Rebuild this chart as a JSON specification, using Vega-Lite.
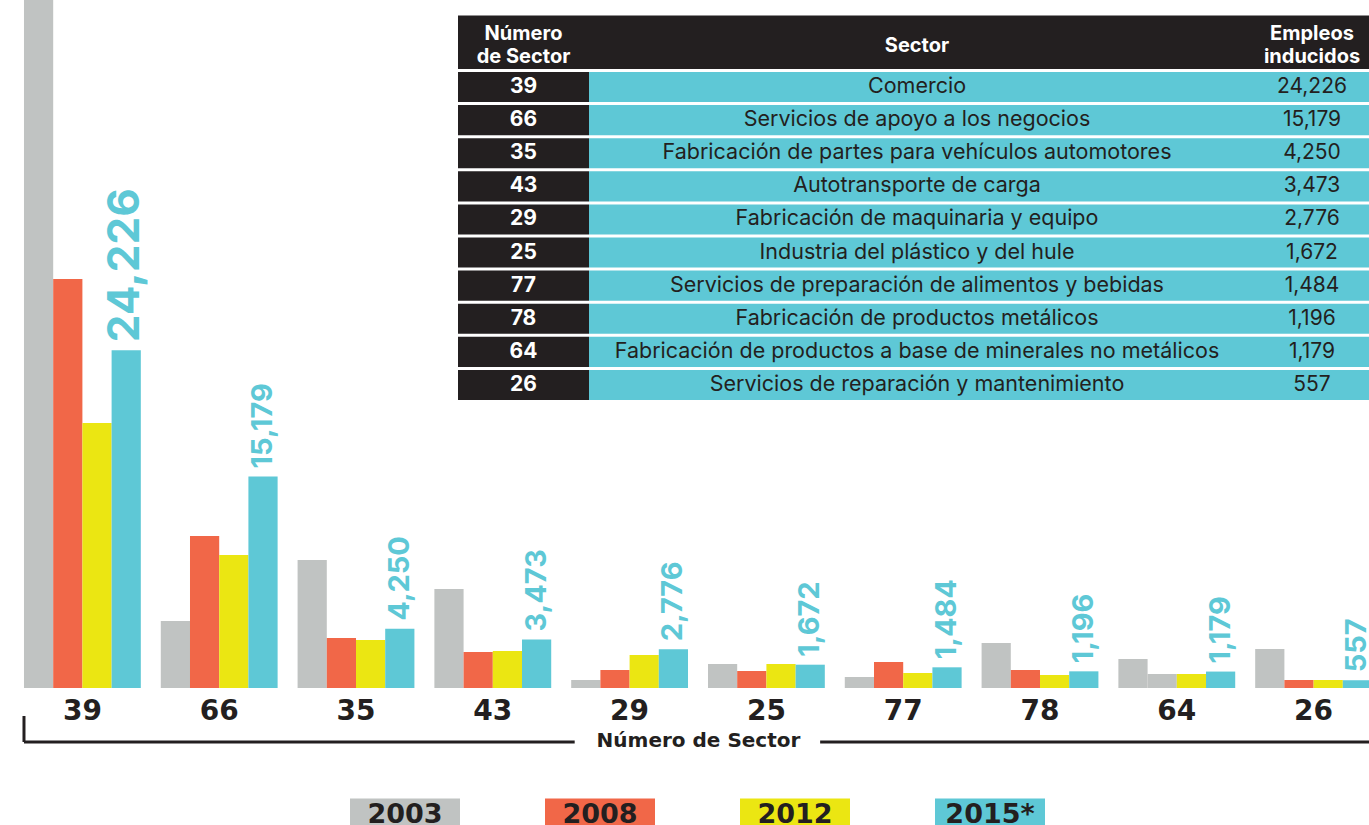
{
  "$schema": "https://vega.github.io/schema/vega-lite/v6.json",
  "autosize": {"type": "none"},
  "padding": {"left": 0, "top": 0, "right": 0, "bottom": 137},
  "width": 1369,
  "height": 688,
  "background": "white",
  "config": {"view": {"stroke": null}, "font": "Inter"},
  "datasets": {
    "bars": [
      {"sector": "39", "year": "2003", "value": 55000},
      {"sector": "39", "year": "2008", "value": 29340},
      {"sector": "39", "year": "2012", "value": 19010},
      {"sector": "39", "year": "2015*", "value": 24226},
      {"sector": "66", "year": "2003", "value": 4806},
      {"sector": "66", "year": "2008", "value": 10904},
      {"sector": "66", "year": "2012", "value": 9541},
      {"sector": "66", "year": "2015*", "value": 15179},
      {"sector": "35", "year": "2003", "value": 9182},
      {"sector": "35", "year": "2008", "value": 3587},
      {"sector": "35", "year": "2012", "value": 3443},
      {"sector": "35", "year": "2015*", "value": 4250},
      {"sector": "43", "year": "2003", "value": 7102},
      {"sector": "43", "year": "2008", "value": 2583},
      {"sector": "43", "year": "2012", "value": 2654},
      {"sector": "43", "year": "2015*", "value": 3473},
      {"sector": "29", "year": "2003", "value": 574},
      {"sector": "29", "year": "2008", "value": 1291},
      {"sector": "29", "year": "2012", "value": 2367},
      {"sector": "29", "year": "2015*", "value": 2776},
      {"sector": "25", "year": "2003", "value": 1722},
      {"sector": "25", "year": "2008", "value": 1220},
      {"sector": "25", "year": "2012", "value": 1722},
      {"sector": "25", "year": "2015*", "value": 1672},
      {"sector": "77", "year": "2003", "value": 789},
      {"sector": "77", "year": "2008", "value": 1865},
      {"sector": "77", "year": "2012", "value": 1076},
      {"sector": "77", "year": "2015*", "value": 1484},
      {"sector": "78", "year": "2003", "value": 3228},
      {"sector": "78", "year": "2008", "value": 1291},
      {"sector": "78", "year": "2012", "value": 933},
      {"sector": "78", "year": "2015*", "value": 1196},
      {"sector": "64", "year": "2003", "value": 2080},
      {"sector": "64", "year": "2008", "value": 1004},
      {"sector": "64", "year": "2012", "value": 1004},
      {"sector": "64", "year": "2015*", "value": 1179},
      {"sector": "26", "year": "2003", "value": 2798},
      {"sector": "26", "year": "2008", "value": 574},
      {"sector": "26", "year": "2012", "value": 574},
      {"sector": "26", "year": "2015*", "value": 557}
    ],
    "table": [
      {"sector": "39", "name": "Comercio", "empleos": 24226},
      {"sector": "66", "name": "Servicios de apoyo a los negocios", "empleos": 15179},
      {"sector": "35", "name": "Fabricación de partes para vehículos automotores", "empleos": 4250},
      {"sector": "43", "name": "Autotransporte de carga", "empleos": 3473},
      {"sector": "29", "name": "Fabricación de maquinaria y equipo", "empleos": 2776},
      {"sector": "25", "name": "Industria del plástico y del hule", "empleos": 1672},
      {"sector": "77", "name": "Servicios de preparación de alimentos y bebidas", "empleos": 1484},
      {"sector": "78", "name": "Fabricación de productos metálicos", "empleos": 1196},
      {"sector": "64", "name": "Fabricación de productos a base de minerales no metálicos", "empleos": 1179},
      {"sector": "26", "name": "Servicios de reparación y mantenimiento", "empleos": 557}
    ]
  },
  "layer": [
    {
      "data": {"name": "bars"},
      "layer": [
        {
          "mark": {"type": "bar"},
          "encoding": {
            "x": {
              "field": "sector", "type": "nominal",
              "sort": ["39", "66", "35", "43", "29", "25", "77", "78", "64", "26"],
              "scale": {"domain": ["39", "66", "35", "43", "29", "25", "77", "78", "64", "26"], "range": [14, 1382], "paddingInner": 0.146, "paddingOuter": 0.073},
              "axis": {
                "title": "Número de Sector", "labelAngle": 0, "ticks": false, "tickSize": 0, "domain": false, "grid": false,
                "labelPadding": 9, "labelFont": "DejaVu Sans", "labelFontWeight": "bold", "labelFontSize": 28, "labelColor": "#231f20",
                "titleFont": "DejaVu Sans", "titleFontWeight": "bold", "titleFontSize": 20, "titleColor": "#231f20",
                "titleY": 58, "titleBaseline": "alphabetic"
              }
            },
            "xOffset": {
              "field": "year", "type": "nominal",
              "scale": {"domain": ["2003", "2008", "2012", "2015*"], "paddingInner": 0, "paddingOuter": 0}
            },
            "y": {"field": "value", "type": "quantitative", "scale": {"domain": [0, 49354], "nice": false}, "axis": null},
            "color": {
              "field": "year", "type": "nominal",
              "scale": {"domain": ["2003", "2008", "2012", "2015*"], "range": ["#c0c3c2", "#f16748", "#ebe612", "#5ec8d6"]},
              "condition": {"test": "datum.sector === '64' && datum.year === '2008'", "value": "#c0c3c2"},
              "legend": {
                "orient": "none", "legendX": 350, "legendY": 760, "direction": "horizontal", "title": null,
                "symbolType": "M-1,-0.3H1V0.2H-1Z", "symbolSize": 12100, "symbolStrokeWidth": 0, "symbolOpacity": 1,
                "labelAlign": "center", "labelOffset": -55, "labelFontSize": 27, "labelFont": "DejaVu Sans",
                "labelFontWeight": "bold", "labelColor": "#231f20", "columnPadding": 85,
                "padding": 0, "labelLimit": 300
              }
            }
          }
        },
        {
          "transform": [{"filter": "datum.year === '2015*'"}],
          "mark": {"type": "text", "angle": 270, "align": "left", "baseline": "middle", "dx": 8, "font": "Inter", "fontWeight": "bold", "color": "#5ec8d6"},
          "encoding": {
            "x": {"field": "sector", "type": "nominal"},
            "xOffset": {"field": "year", "type": "nominal"},
            "y": {"field": "value", "type": "quantitative"},
            "text": {"field": "value", "type": "quantitative", "format": ","},
            "size": {"condition": {"test": "datum.sector === '39'", "value": 44}, "value": 29}
          }
        },
        {
          "data": {"values": [{}]},
          "mark": {"type": "rule", "strokeWidth": 3, "color": "#231f20"},
          "encoding": {
            "x": {"datum": "39", "type": "nominal", "bandPosition": 0},
            "y": {"datum": -2009, "type": "quantitative"},
            "y2": {"datum": -3874}
          }
        },
        {
          "data": {"values": [{}]},
          "mark": {"type": "rule", "strokeWidth": 3, "color": "#231f20"},
          "encoding": {
            "x": {"datum": "39", "type": "nominal", "bandPosition": 0},
            "x2": {"datum": "29", "bandPosition": 0.03},
            "y": {"datum": -3874, "type": "quantitative"}
          }
        },
        {
          "data": {"values": [{}]},
          "mark": {"type": "rule", "strokeWidth": 3, "color": "#231f20"},
          "encoding": {
            "x": {"datum": "25", "type": "nominal", "bandPosition": 0.96},
            "x2": {"datum": "26", "bandPosition": 1},
            "y": {"datum": -3874, "type": "quantitative"}
          }
        }
      ]
    },
    {
      "layer": [
        {
          "data": {"name": "table"},
          "layer": [
            {
              "mark": {"type": "rect", "color": "#231f20"},
              "encoding": {
                "x": {"datum": "num", "type": "nominal", "scale": {"range": [458, 589], "paddingInner": 0, "paddingOuter": 0}, "axis": null},
                "y": {"field": "sector", "type": "nominal", "sort": null, "scale": {"range": [70.5, 401.5], "paddingInner": 0.09, "paddingOuter": 0.045}, "axis": null}
              }
            },
            {
              "mark": {"type": "text", "font": "Inter", "fontWeight": "bold", "fontSize": 21, "color": "white"},
              "encoding": {
                "x": {"datum": "num", "type": "nominal"},
                "y": {"field": "sector", "type": "nominal", "sort": null},
                "text": {"field": "sector", "type": "nominal"}
              }
            }
          ]
        },
        {
          "data": {"values": [{}]},
          "layer": [
            {
              "mark": {"type": "rect", "color": "#231f20"},
              "encoding": {
                "x": {"datum": "num", "type": "nominal"},
                "y": {"datum": "h", "type": "nominal", "scale": {"range": [15.5, 69], "paddingInner": 0, "paddingOuter": 0}, "axis": null}
              }
            },
            {
              "mark": {"type": "text", "text": ["Número", "de Sector"], "lineHeight": 23, "dy": -8, "font": "Inter", "fontWeight": "bold", "fontSize": 20, "color": "white"},
              "encoding": {
                "x": {"datum": "num", "type": "nominal"},
                "y": {"datum": "h", "type": "nominal"}
              }
            }
          ]
        }
      ],
      "resolve": {"scale": {"y": "independent"}}
    },
    {
      "layer": [
        {
          "data": {"name": "table"},
          "layer": [
            {
              "mark": {"type": "rect", "color": "#5ec8d6"},
              "encoding": {
                "x": {"datum": "sec", "type": "nominal", "scale": {"range": [589, 1245], "paddingInner": 0, "paddingOuter": 0}, "axis": null},
                "y": {"field": "sector", "type": "nominal", "sort": null, "scale": {"range": [70.5, 401.5], "paddingInner": 0.09, "paddingOuter": 0.045}, "axis": null}
              }
            },
            {
              "mark": {"type": "text", "font": "Inter", "fontSize": 21.5, "color": "#231f20"},
              "encoding": {
                "x": {"datum": "sec", "type": "nominal"},
                "y": {"field": "sector", "type": "nominal", "sort": null},
                "text": {"field": "name", "type": "nominal"}
              }
            }
          ]
        },
        {
          "data": {"values": [{}]},
          "layer": [
            {
              "mark": {"type": "rect", "color": "#231f20"},
              "encoding": {
                "x": {"datum": "sec", "type": "nominal"},
                "y": {"datum": "h", "type": "nominal", "scale": {"range": [15.5, 69], "paddingInner": 0, "paddingOuter": 0}, "axis": null}
              }
            },
            {
              "mark": {"type": "text", "text": "Sector", "dy": 4, "font": "Inter", "fontWeight": "bold", "fontSize": 20, "color": "white"},
              "encoding": {
                "x": {"datum": "sec", "type": "nominal"},
                "y": {"datum": "h", "type": "nominal"}
              }
            }
          ]
        }
      ],
      "resolve": {"scale": {"y": "independent"}}
    },
    {
      "layer": [
        {
          "data": {"name": "table"},
          "layer": [
            {
              "mark": {"type": "rect", "color": "#5ec8d6"},
              "encoding": {
                "x": {"datum": "emp", "type": "nominal", "scale": {"range": [1245, 1379], "paddingInner": 0, "paddingOuter": 0}, "axis": null},
                "y": {"field": "sector", "type": "nominal", "sort": null, "scale": {"range": [70.5, 401.5], "paddingInner": 0.09, "paddingOuter": 0.045}, "axis": null}
              }
            },
            {
              "mark": {"type": "text", "font": "Inter", "fontSize": 21, "color": "#231f20"},
              "encoding": {
                "x": {"datum": "emp", "type": "nominal"},
                "y": {"field": "sector", "type": "nominal", "sort": null},
                "text": {"field": "empleos", "type": "quantitative", "format": ","}
              }
            }
          ]
        },
        {
          "data": {"values": [{}]},
          "layer": [
            {
              "mark": {"type": "rect", "color": "#231f20"},
              "encoding": {
                "x": {"datum": "emp", "type": "nominal"},
                "y": {"datum": "h", "type": "nominal", "scale": {"range": [15.5, 69], "paddingInner": 0, "paddingOuter": 0}, "axis": null}
              }
            },
            {
              "mark": {"type": "text", "text": ["Empleos", "inducidos"], "lineHeight": 23, "dy": -8, "font": "Inter", "fontWeight": "bold", "fontSize": 20, "color": "white"},
              "encoding": {
                "x": {"datum": "emp", "type": "nominal"},
                "y": {"datum": "h", "type": "nominal"}
              }
            }
          ]
        }
      ],
      "resolve": {"scale": {"y": "independent"}}
    }
  ],
  "resolve": {"scale": {"x": "independent", "y": "independent"}}
}
